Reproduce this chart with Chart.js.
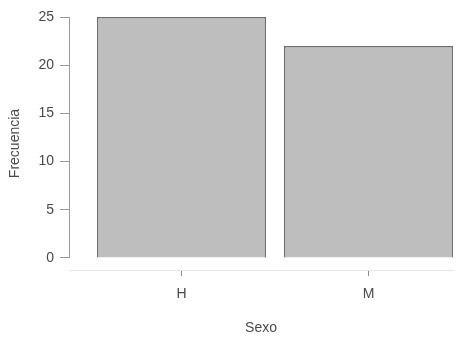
<!DOCTYPE html>
<html>
<head>
<meta charset="utf-8">
<script src="https://cdn.jsdelivr.net/npm/chart.js@4"></script>
<style>
  html, body { margin: 0; padding: 0; background: #fff; }
  #wrap { width: 457px; height: 337px; }
</style>
</head>
<body>
<div id="wrap"><canvas id="chart" width="457" height="337"></canvas></div>
<script>
// datos del grafico
var categorias = ['H', 'M'];
var frecuencias = [25, 22];
var ticksY = [0, 5, 10, 15, 20, 25];

var colorTexto = '#4a4a4a';
var fuente = { family: "'Liberation Sans', Arial, sans-serif", size: 14 };

// linea del eje y solo entre el primer y ultimo tick (como en R)
var ejeY = {
  id: 'ejeY',
  afterDraw: function(chart){
    var y = chart.scales.y, ctx = chart.ctx;
    var x = chart.chartArea.left;
    ctx.save();
    ctx.strokeStyle = '#9a9a9a';
    ctx.lineWidth = 1;
    ctx.beginPath();
    ctx.moveTo(x + 0.5, y.getPixelForValue(ticksY[0]));
    ctx.lineTo(x + 0.5, y.getPixelForValue(ticksY[ticksY.length - 1]));
    ctx.stroke();
    ctx.restore();
  }
};

var puntos = categorias.map(function(c, i){ return { x: i, y: frecuencias[i] }; });

new Chart(document.getElementById('chart'), {
  type: 'bar',
  data: {
    datasets: [{
      label: 'Frecuencia',
      data: puntos,
      backgroundColor: '#bebebe',
      borderColor: '#6e6e6e',
      borderWidth: 1.5,
      barPercentage: 0.904,
      categoryPercentage: 1
    }]
  },
  options: {
    responsive: false,
    animation: false,
    layout: { padding: { top: 17, right: 4, left: 0, bottom: 0 } },
    plugins: { legend: { display: false }, tooltip: { enabled: false } },
    scales: {
      x: {
        type: 'linear',
        offset: false,
        min: -0.6016,
        max: 1.4519,
        afterBuildTicks: function(s){ s.ticks = categorias.map(function(c, i){ return { value: i }; }); },
        afterFit: function(s){ s.height = 67; },
        grid: { offset: false, drawOnChartArea: false, drawTicks: true, tickLength: 6, color: '#8a8a8a' },
        border: { display: true, color: '#e4e4e4', width: 1 },
        ticks: {
          color: colorTexto, font: fuente, padding: 10, maxRotation: 0,
          callback: function(v){ return categorias[v]; }
        },
        title: { display: true, text: 'Sexo', color: colorTexto, font: fuente, padding: { top: 6, bottom: 0 } }
      },
      y: {
        min: -1.245,
        max: 25,
        afterBuildTicks: function(s){ s.ticks = ticksY.map(function(v){ return { value: v }; }); },
        afterFit: function(s){ s.width = 69; },
        grid: { drawOnChartArea: false, drawTicks: true, tickLength: 9, color: '#9a9a9a' },
        border: { display: false },
        ticks: { color: colorTexto, font: fuente, padding: 6 },
        title: { display: true, text: 'Frecuencia', color: colorTexto, font: fuente, padding: { top: 7, bottom: 0 } }
      }
    }
  },
  plugins: [ejeY]
});
</script>
</body>
</html>
